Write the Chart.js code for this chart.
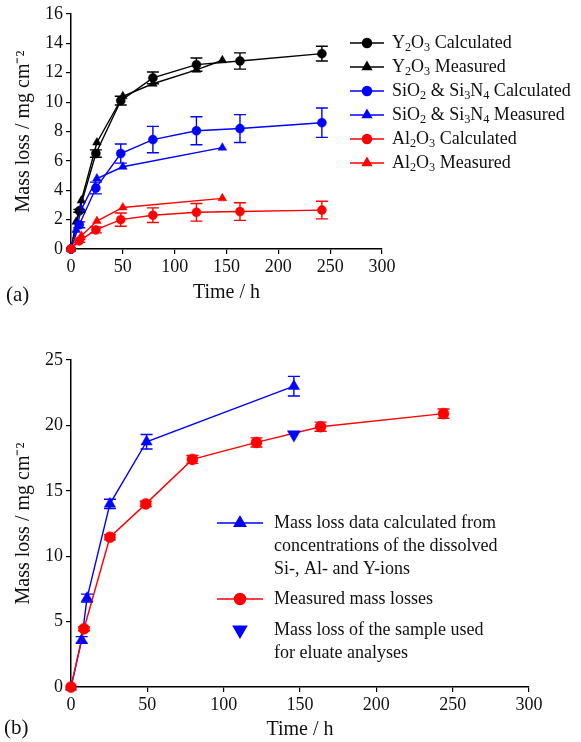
<!DOCTYPE html>
<html>
<head>
<meta charset="utf-8">
<script src="https://cdn.jsdelivr.net/npm/chart.js@4.4.1/dist/chart.umd.min.js"></script>
<style>
  body { margin: 0; background: #fff; }
  #wrap { position: relative; width: 581px; height: 742px; }
  canvas { position: absolute; left: 0; }
  #chartA { top: 0; }
  #chartB { top: 320px; }
</style>
</head>
<body>
<div id="wrap">
  <canvas id="chartA" width="581" height="320"></canvas>
  <canvas id="chartB" width="581" height="422"></canvas>
</div>
<script>
// ---- panel (a) data ----
const timeCalcA = [0, 8, 24, 48, 79, 121, 163, 242];
const y2o3Calc = [0, 2.6, 6.5, 10.1, 11.65, 12.55, 12.8, 13.3];
const y2o3CalcErr = [0, 0.1, 0.25, 0.3, 0.4, 0.45, 0.55, 0.5];
const siCalc = [0, 1.65, 4.15, 6.5, 7.45, 8.05, 8.2, 8.6];
const siCalcErr = [0, 0.2, 0.4, 0.65, 0.9, 0.95, 0.95, 1.0];
const alCalc = [0, 0.55, 1.3, 2.0, 2.3, 2.5, 2.55, 2.65];
const alCalcErr = [0, 0.1, 0.2, 0.45, 0.5, 0.6, 0.6, 0.6];

const timeY2o3Meas = [0, 5, 10, 25, 50, 79, 121, 146];
const y2o3Meas = [0, 1.85, 3.3, 7.25, 10.4, 11.25, 12.2, 12.85];
const timeSiMeas = [0, 5, 10, 25, 50, 146];
const siMeas = [0, 1.3, 2.7, 4.8, 5.6, 6.9];
const timeAlMeas = [0, 10, 25, 50, 146];
const alMeas = [0, 0.9, 1.9, 2.83, 3.45];

const labelsA = [
  'Y₂O₃ Calculated',
  'Y₂O₃ Measured',
  'SiO₂ & Si₃N₄ Calculated',
  'SiO₂ & Si₃N₄ Measured',
  'Al₂O₃ Calculated',
  'Al₂O₃ Measured'
];

// ---- panel (b) data ----
const timeIons = [0, 7, 10.5, 25.5, 49.5, 146];
const ionsMass = [0, 3.6, 6.8, 14.0, 18.75, 23.0];
const ionsErr = [0, 0.25, 0.3, 0.35, 0.55, 0.75];
const timeMeasB = [0, 8.5, 25.5, 49, 79.5, 121.5, 163.5, 244];
const measMassB = [0, 4.45, 11.45, 14.0, 17.4, 18.7, 19.9, 20.9];
const measErrB = [0, 0.15, 0.2, 0.2, 0.3, 0.35, 0.35, 0.35];
const timeEluate = [146];
const eluateMass = [19.3];

const labelsB = [
  'Mass loss data calculated from\nconcentrations of the dissolved\nSi-, Al- and Y-ions',
  'Measured mass losses',
  'Mass loss of the sample used\nfor eluate analyses'
];

const BLACK = '#000000';
const BLUE = '#0000ff';
const RED = '#ff0000';
const FONT = '"Liberation Serif", "Times New Roman", serif';

function pts(xs, ys) {
  return xs.map((x, i) => ({ x: x, y: ys[i] }));
}

const SUBS = { '₀': '0', '₁': '1', '₂': '2', '₃': '3', '₄': '4' };

// draws text with unicode subscript digits as small lowered digits
function drawRich(ctx, text, x, y, size) {
  let run = '';
  let isSub = false;
  const flush = () => {
    if (!run) return;
    ctx.font = (isSub ? size * 0.68 : size) + 'px ' + FONT;
    ctx.fillText(run, x, isSub ? y + size * 0.24 : y);
    x += ctx.measureText(run).width;
    run = '';
  };
  for (const ch of text) {
    const sub = ch in SUBS;
    if (sub !== isSub) { flush(); isSub = sub; }
    run += sub ? SUBS[ch] : ch;
  }
  flush();
}

const extras = {
  id: 'extras',
  afterDatasetsDraw(chart) {
    const ctx = chart.ctx;
    const xs = chart.scales.x;
    const ys = chart.scales.y;
    chart.data.datasets.forEach((ds) => {
      if (!ds.errors) return;
      ctx.save();
      ctx.strokeStyle = ds.borderColor;
      ctx.lineWidth = 1.4;
      ds.data.forEach((p, i) => {
        const e = ds.errors[i];
        if (!e) return;
        const px = xs.getPixelForValue(p.x);
        const top = ys.getPixelForValue(p.y + e);
        const bot = ys.getPixelForValue(p.y - e);
        ctx.beginPath();
        ctx.moveTo(px, top); ctx.lineTo(px, bot);
        ctx.moveTo(px - 6, top); ctx.lineTo(px + 6, top);
        ctx.moveTo(px - 6, bot); ctx.lineTo(px + 6, bot);
        ctx.stroke();
      });
      ctx.restore();
    });
  },
  afterDraw(chart, args, opts) {
    const ctx = chart.ctx;
    ctx.save();
    ctx.fillStyle = '#111';
    ctx.textBaseline = 'middle';
    ctx.font = '21px ' + FONT;
    ctx.fillText(opts.panel, opts.panelX, opts.panelY);
    const lg = opts.legend;
    chart.data.datasets.forEach((ds, di) => {
      const y = lg.rows[di];
      const mid = (lg.x0 + lg.x1) / 2;
      ctx.strokeStyle = ds.borderColor;
      ctx.fillStyle = ds.borderColor;
      if (ds.showLine !== false) {
        ctx.lineWidth = 1.5;
        ctx.beginPath();
        ctx.moveTo(lg.x0, y); ctx.lineTo(lg.x1, y);
        ctx.stroke();
      }
      Chart.helpers.drawPoint(ctx, {
        pointStyle: ds.pointStyle,
        radius: ds.pointRadius,
        rotation: ds.pointRotation || 0,
        borderWidth: 0.5
      }, mid, y);
      ctx.fillStyle = '#111';
      ds.label.split('\n').forEach((line, li) => {
        drawRich(ctx, line, lg.textX, y + li * lg.lineGap, lg.size);
      });
    });
    ctx.restore();
  }
};

function axes(maxX, maxY, stepY, yWidth, xHeight, titleXPad) {
  const tickFont = { family: FONT, size: 18 };
  const titleFont = { family: FONT, size: 20 };
  const grid = { drawOnChartArea: false, drawTicks: true, tickLength: 5, color: BLACK, lineWidth: 1.2 };
  const border = { display: true, color: BLACK, width: 1.5 };
  return {
    x: {
      type: 'linear', min: 0, max: maxX,
      ticks: { stepSize: 50, font: tickFont, color: '#111', padding: 2, maxRotation: 0 },
      grid: grid, border: border,
      title: { display: true, text: 'Time / h', font: titleFont, color: '#111', padding: { top: 0, bottom: titleXPad } },
      afterFit: (s) => { s.height = xHeight; }
    },
    y: {
      type: 'linear', min: 0, max: maxY,
      ticks: { stepSize: stepY, font: tickFont, color: '#111', padding: 3 },
      grid: grid, border: border,
      title: { display: true, text: 'Mass loss / mg cm⁻²', font: titleFont, color: '#111', padding: { top: 12, bottom: 0 } },
      afterFit: (s) => { s.width = yWidth; }
    }
  };
}

// lower "order" is drawn on top
function lineSet(label, data, color, style, radius, errors, order) {
  return {
    label: label,
    data: data,
    borderColor: color,
    backgroundColor: color,
    pointBackgroundColor: color,
    pointBorderColor: color,
    borderWidth: 1.4,
    pointBorderWidth: 0.5,
    pointStyle: style,
    pointRadius: radius,
    tension: 0,
    clip: false,
    order: order,
    errors: errors
  };
}

const chartA = new Chart(document.getElementById('chartA'), {
  type: 'line',
  data: {
    datasets: [
      lineSet(labelsA[0], pts(timeCalcA, y2o3Calc), BLACK, 'circle', 4.5, y2o3CalcErr, 5),
      lineSet(labelsA[1], pts(timeY2o3Meas, y2o3Meas), BLACK, 'triangle', 5, null, 4),
      lineSet(labelsA[2], pts(timeCalcA, siCalc), BLUE, 'circle', 4.5, siCalcErr, 3),
      lineSet(labelsA[3], pts(timeSiMeas, siMeas), BLUE, 'triangle', 5, null, 2),
      lineSet(labelsA[4], pts(timeCalcA, alCalc), RED, 'circle', 4.5, alCalcErr, 0),
      lineSet(labelsA[5], pts(timeAlMeas, alMeas), RED, 'triangle', 5, null, 1)
    ]
  },
  options: {
    responsive: false,
    animation: false,
    devicePixelRatio: 1,
    layout: { padding: { left: 0, top: 14, right: 199, bottom: 0 } },
    scales: axes(300, 16, 2, 71, 71, 15),
    plugins: {
      legend: { display: false },
      tooltip: { enabled: false },
      extras: {
        panel: '(a)', panelX: 6, panelY: 295,
        legend: { x0: 350, x1: 384, textX: 392, size: 18, lineGap: 23, rows: [43, 67, 91, 115, 139, 163] }
      }
    }
  },
  plugins: [extras]
});

const ionsSet = lineSet(labelsB[0], pts(timeIons, ionsMass), BLUE, 'triangle', 6.5, ionsErr, 2);
const measSet = lineSet(labelsB[1], pts(timeMeasB, measMassB), RED, 'circle', 5.5, measErrB, 1);
const eluateSet = lineSet(labelsB[2], pts(timeEluate, eluateMass), BLUE, 'triangle', 7.5, null, 0);
eluateSet.showLine = false;
eluateSet.pointRotation = 180;

const chartB = new Chart(document.getElementById('chartB'), {
  type: 'line',
  data: { datasets: [ionsSet, measSet, eluateSet] },
  options: {
    responsive: false,
    animation: false,
    devicePixelRatio: 1,
    layout: { padding: { left: 0, top: 40, right: 52, bottom: 0 } },
    scales: axes(300, 25, 5, 71, 55, 0),
    plugins: {
      legend: { display: false },
      tooltip: { enabled: false },
      extras: {
        panel: '(b)', panelX: 4, panelY: 408,
        legend: { x0: 217, x1: 263, textX: 274, size: 18, lineGap: 23, rows: [203, 279, 310] }
      }
    }
  },
  plugins: [extras]
});
</script>
</body>
</html>
